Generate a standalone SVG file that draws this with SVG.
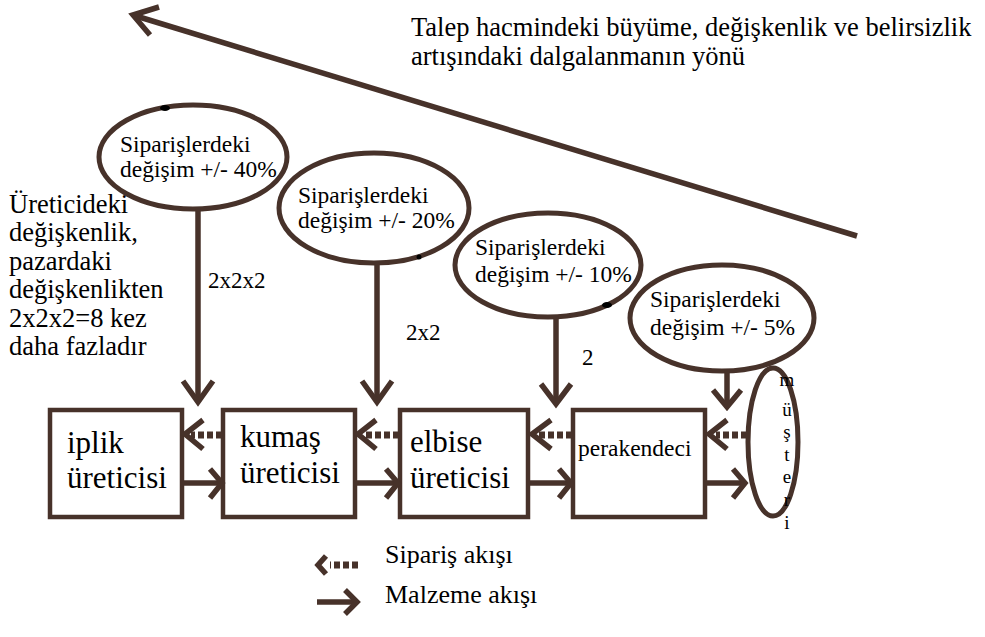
<svg xmlns="http://www.w3.org/2000/svg" width="985" height="637" viewBox="0 0 985 637">
<style>
.el{fill:none;stroke:#47322a;stroke-width:5;}
.box{fill:#fff;stroke:#47322a;stroke-width:4.5;}
.ln{fill:none;stroke:#47322a;stroke-width:5.5;stroke-linecap:butt;stroke-linejoin:miter;}
.dot{fill:none;stroke:#47322a;stroke-width:7;stroke-dasharray:6 3;}
</style>
<rect width="985" height="637" fill="#fff"/>
<g font-family="Liberation Serif">
<g id="trend">
<line class="ln" x1="857" y1="236" x2="136" y2="16"/>
<polyline class="ln" points="159,7 133,15 150,35"/>
<text x="411" y="36" font-size="26.5">Talep hacmindeki büyüme, değişkenlik ve belirsizlik</text>
<text x="411" y="65" font-size="26.5">artışındaki dalgalanmanın yönü</text>
</g>

<g id="note" font-size="26.5">
<text x="9" y="213">Üreticideki</text>
<text x="9" y="241">değişkenlik,</text>
<text x="9" y="270">pazardaki</text>
<text x="9" y="298">değişkenlikten</text>
<text x="9" y="327">2x2x2=8 kez</text>
<text x="9" y="355">daha fazladır</text>
</g>

<g id="var40" font-size="23.5">
<ellipse class="el" cx="193" cy="157" rx="94" ry="52"/>
<ellipse cx="165" cy="108" rx="5" ry="3" fill="#000"/>
<text x="120" y="152">Siparişlerdeki</text>
<text x="120" y="177">değişim +/- 40%</text>
</g>
<g id="var20" font-size="23.5">
<ellipse class="el" cx="374" cy="208" rx="95" ry="55"/>
<circle cx="419" cy="257" r="2.5" fill="#000"/>
<text x="298" y="203">Siparişlerdeki</text>
<text x="298" y="228">değişim +/- 20%</text>
</g>
<g id="var10" font-size="23.5">
<ellipse class="el" cx="548" cy="265" rx="93" ry="52"/>
<ellipse cx="607" cy="305" rx="5" ry="3" fill="#000"/>
<text x="475" y="255">Siparişlerdeki</text>
<text x="475" y="282">değişim +/- 10%</text>
</g>
<g id="var5" font-size="23.5">
<ellipse class="el" cx="722" cy="318" rx="92" ry="53"/>
<text x="650" y="307">Siparişlerdeki</text>
<text x="650" y="335">değişim +/- 5%</text>
</g>

<g id="iplik" font-size="31">
<rect class="box" x="50" y="410" width="132" height="107"/>
<text x="67" y="453">iplik</text>
<text x="67" y="488">üreticisi</text>
</g>
<g id="kumas" font-size="31">
<rect class="box" x="223" y="410" width="132" height="107"/>
<text x="240" y="447">kumaş</text>
<text x="240" y="483">üreticisi</text>
</g>
<g id="elbise" font-size="31">
<rect class="box" x="400" y="410" width="128" height="107"/>
<text x="410" y="452">elbise</text>
<text x="410" y="488">üreticisi</text>
</g>
<g id="perakendeci">
<rect class="box" x="573" y="410" width="132" height="107"/>
<text x="578" y="456" font-size="23.5">perakendeci</text>
</g>
<g id="musteri">
<ellipse class="el" cx="773" cy="442" rx="25" ry="74"/>
<g font-size="19" text-anchor="middle">
<text x="787" y="386">m</text>
<text x="787" y="416">ü</text>
<text x="787" y="438">ş</text>
<text x="787" y="461">t</text>
<text x="787" y="483">e</text>
<text x="787" y="506">r</text>
<text x="787" y="529">i</text>
</g>
</g>

<g id="connectors">
<line class="ln" x1="198" y1="209" x2="198" y2="400"/>
<polyline class="ln" points="183,381 198,402 213,381"/>
<line class="ln" x1="377" y1="263" x2="377" y2="400"/>
<polyline class="ln" points="362,381 377,402 392,381"/>
<line class="ln" x1="556" y1="317" x2="556" y2="402"/>
<polyline class="ln" points="541,384 556,404 571,384"/>
<line class="ln" x1="727" y1="371" x2="727" y2="405"/>
<polyline class="ln" points="713,390 727,407 741,390"/>

<line class="dot" x1="222" y1="435" x2="191" y2="435"/>
<polyline class="ln" points="203,420 185,434 203,449"/>
<line class="dot" x1="399" y1="435" x2="364" y2="435"/>
<polyline class="ln" points="376,420 358,434 376,449"/>
<line class="dot" x1="572" y1="435" x2="539" y2="435"/>
<polyline class="ln" points="551,420 532,434 551,449"/>
<line class="dot" x1="747" y1="435" x2="716" y2="435"/>
<polyline class="ln" points="727,420 709,434 727,449"/>

<line class="ln" x1="184" y1="483" x2="221" y2="483"/>
<polyline class="ln" points="210,469 222,483 210,498"/>
<line class="ln" x1="357" y1="483" x2="398" y2="483"/>
<polyline class="ln" points="386,469 398,483 386,498"/>
<line class="ln" x1="530" y1="483" x2="571" y2="483"/>
<polyline class="ln" points="559,469 571,483 559,498"/>
<line class="ln" x1="707" y1="483" x2="745" y2="483"/>
<polyline class="ln" points="733,469 745,483 733,498"/>
</g>

<g id="labels" font-size="23">
<text x="208" y="288">2x2x2</text>
<text x="406" y="340">2x2</text>
<text x="582" y="365">2</text>
</g>

<g id="legend" font-size="26">
<line class="dot" x1="358" y1="565" x2="330" y2="565"/>
<polyline class="ln" points="326,556 318,565 326,574"/>
<text x="385" y="563">Sipariş akışı</text>
<line class="ln" x1="317" y1="602" x2="355" y2="602"/>
<polyline class="ln" points="345,590 357,602 345,614"/>
<text x="385" y="603">Malzeme akışı</text>
</g>
</g>
</svg>
